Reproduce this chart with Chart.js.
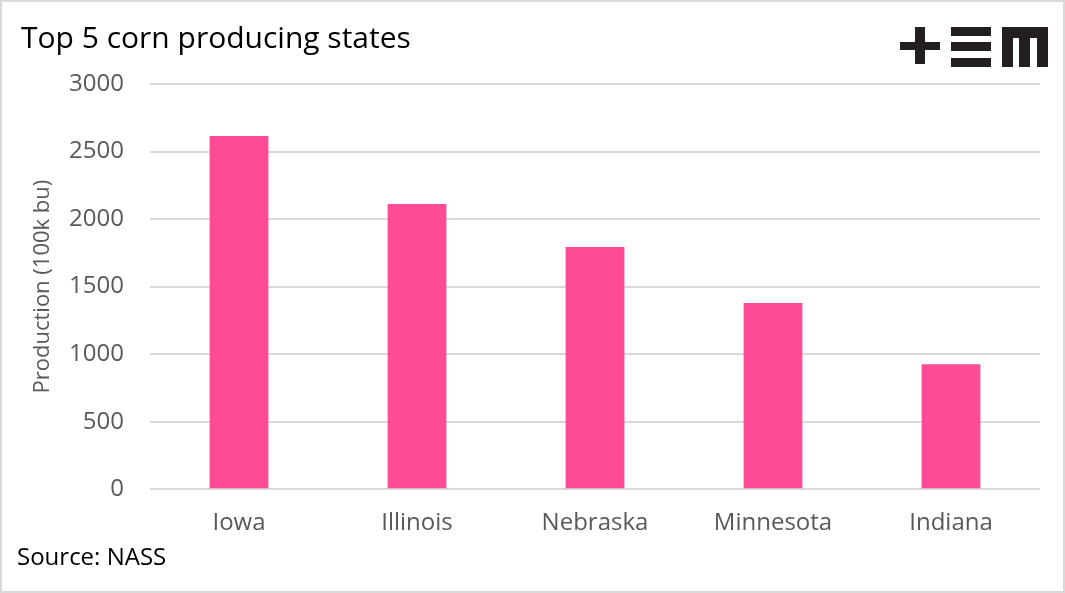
<!DOCTYPE html>
<html>
<head>
<meta charset="utf-8">
<script src="https://cdn.jsdelivr.net/npm/chart.js@4/dist/chart.umd.min.js"></script>
<style>
  body { margin: 0; background: #fff; }
  .frame {
    position: relative;
    width: 1065px;
    height: 593px;
    box-shadow: inset 0 0 0 2px #d9d9d9;
    font-family: "Open Sans", sans-serif;
  }
  .frame canvas { position: absolute; left: 0; top: 0; }
  .title { position: absolute; left: 21px; top: 17px; font-size: 30px; line-height: 40px; color: #000; }
  .source { position: absolute; left: 17px; top: 541px; font-size: 24px; line-height: 30px; color: #000; }
  .logo div { position: absolute; background: #231f20; }
</style>
</head>
<body>
<div class="frame">
  <canvas id="myChart" width="1065" height="593"></canvas>
  <div class="title">Top 5 corn producing states</div>
  <div class="source">Source: NASS</div>
  <div class="logo">
    <div style="left:900px;top:42px;width:40px;height:8px"></div>
    <div style="left:915px;top:27px;width:10px;height:37px"></div>
    <div style="left:951px;top:27px;width:40px;height:9px"></div>
    <div style="left:951px;top:42px;width:40px;height:9px"></div>
    <div style="left:951px;top:58px;width:40px;height:9px"></div>
    <div style="left:1002px;top:27px;width:46px;height:11px"></div>
    <div style="left:1002px;top:27px;width:11px;height:40px"></div>
    <div style="left:1019px;top:27px;width:11px;height:40px"></div>
    <div style="left:1037px;top:27px;width:11px;height:40px"></div>
  </div>
</div>
<script>
const states = ["Iowa", "Illinois", "Nebraska", "Minnesota", "Indiana"];
const production = [2615, 2111, 1793, 1378, 926];
const yTicks = [0, 500, 1000, 1500, 2000, 2500, 3000];

const ctx = document.getElementById("myChart").getContext("2d");
new Chart(ctx, {
  type: "bar",
  data: {
    labels: states,
    datasets: [
      {
        label: "Production",
        data: production,
        backgroundColor: "#ff4b96",
        borderWidth: 0,
        categoryPercentage: 1,
        barPercentage: 0.33,
      },
    ],
  },
  options: {
    responsive: false,
    animation: false,
    layout: {
      padding: { left: 22, right: 25, top: 84, bottom: 35 },
    },
    plugins: {
      legend: { display: false },
      tooltip: { enabled: false },
    },
    scales: {
      x: {
        grid: { display: false, drawTicks: false },
        border: { display: false },
        ticks: {
          color: "#595959",
          padding: 20,
          font: { family: "Open Sans", size: 24 },
        },
      },
      y: {
        min: 0,
        max: 3000,
        afterBuildTicks: (scale) => {
          scale.ticks = yTicks.map((v) => ({ value: v }));
        },
        afterFit: (scale) => {
          scale.width = 128;
        },
        grid: { color: "#d9d9d9", lineWidth: 2, drawTicks: false },
        border: { display: false },
        ticks: {
          color: "#595959",
          padding: 26,
          font: { family: "Open Sans", size: 24 },
          callback: (value) => String(value),
        },
        title: {
          display: true,
          text: "Production (100k bu)",
          color: "#595959",
          padding: { top: 8, bottom: 0 },
          font: { family: "Open Sans", size: 22 },
        },
      },
    },
  },
});
</script>
</body>
</html>
